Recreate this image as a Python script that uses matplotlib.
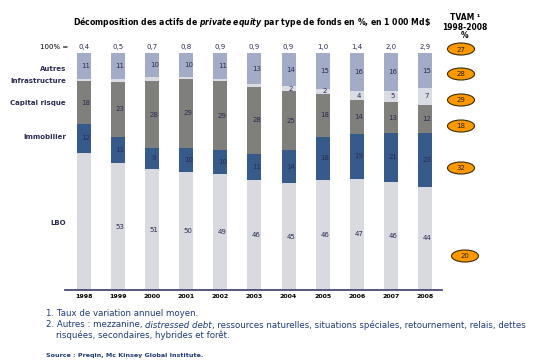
import matplotlib
matplotlib.use('Agg')
import matplotlib.pyplot as plt
from matplotlib.patches import Ellipse
import numpy as np

# data
years = ['1998', '1999', '2000', '2001', '2002', '2003', '2004', '2005', '2006', '2007', '2008']
totals = ['0,4', '0,5', '0,7', '0,8', '0,9', '0,9', '0,9', '1,0', '1,4', '2,0', '2,9']
lbo = [58, 53, 51, 50, 49, 46, 45, 46, 47, 46, 44]
immobilier = [12, 11, 9, 10, 10, 11, 14, 18, 19, 21, 23]
capital_risque = [18, 23, 28, 29, 29, 28, 25, 18, 14, 13, 12]
infrastructure = [1, 1, 2, 1, 1, 1, 2, 2, 4, 5, 7]
autres = [11, 11, 10, 10, 11, 13, 14, 15, 16, 16, 15]
show_infra = [False] * 6 + [True] * 5
show_lbo = [False] + [True] * 10
tvam_values = ['27', '28', '29', '18', '32', '20']

W, H = 548, 361
fig = plt.figure(figsize=(W / 100, H / 100), dpi=100)
plt.rcParams['mathtext.fontset'] = 'custom'
plt.rcParams['mathtext.bf'] = 'DejaVu Sans:bold:italic'

def fx(x):
    return x / W

def fy(y):
    return 1 - y / H

# axes box in pixels: left 65, right 442, top 53, bottom 290
ax = fig.add_axes([fx(65), fy(290), (442 - 65) / W, (290 - 53) / H])

txt_col = '#2B2B55'
navy = '#1F3A78'
colors = ['#D8DADF', '#365A8A', '#7F807C', '#D9DCE2', '#A3ACC7']
series = [lbo, immobilier, capital_risque, infrastructure, autres]
shows = [show_lbo, [True] * 11, [True] * 11, show_infra, [True] * 11]

x = np.arange(len(years))
sums = np.sum(np.array(series, dtype=float), axis=0)
bottom = np.zeros(len(years))
for vals, col, show in zip(series, colors, shows):
    h = np.array(vals) / sums * 100
    ax.bar(x, h, bottom=bottom, width=0.41, color=col, linewidth=0)
    for i in range(len(years)):
        if show[i]:
            ax.text(x[i] + 0.06, bottom[i] + h[i] / 2, str(vals[i]), ha='center', va='center',
                    fontsize=5, color=txt_col)
    bottom += h

for i in range(len(years)):
    ax.text(x[i], 102.5, totals[i], ha='center', va='center', fontsize=5, color=txt_col)

ax.set_xlim(-0.557, 10.5)
ax.set_ylim(0, 100)
ax.set_yticks([])
ax.set_xticks(x)
ax.set_xticklabels(years, fontsize=4.5, fontweight='bold')
ax.tick_params(axis='x', length=0, pad=3)
for s in ['top', 'left', 'right']:
    ax.spines[s].set_visible(False)
ax.spines['bottom'].set_color('#3A3A6A')
ax.spines['bottom'].set_linewidth(1.2)

# left labels
fig.text(fx(68), fy(47), '100% =', ha='right', va='center', fontsize=5, color='black')
for lab, yy in [('Autres', 69), ('Infrastructure', 81), ('Capital risque', 103),
                ('Immobilier', 137), ('LBO', 223)]:
    fig.text(fx(66), fy(yy), lab, ha='right', va='center', fontsize=5, fontweight='bold', color=txt_col)

# title
fig.text(fx(252), fy(22), r'Décomposition des actifs de $\mathbf{private\ equity}$ par type de fonds en %, en 1 000 Md\$',
         ha='center', va='center', fontsize=5.6, fontweight='bold', color='black')
fig.text(fx(465), fy(17), 'TVAM ¹', ha='center', va='center', fontsize=5.5, fontweight='bold')
fig.text(fx(465), fy(27), '1998-2008', ha='center', va='center', fontsize=5.5, fontweight='bold')
fig.text(fx(465), fy(36), '%', ha='center', va='center', fontsize=5.5, fontweight='bold')

# TVAM ellipses
for val, (ex, ey) in zip(tvam_values, [(461, 49), (461, 74), (461, 100), (461, 126), (461, 168), (465, 256)]):
    e = Ellipse((fx(ex), fy(ey)), 27 / W, 12 / H, transform=fig.transFigure,
                facecolor='#FF9900', edgecolor='#3A2A00', linewidth=0.8)
    fig.add_artist(e)
    fig.text(fx(ex), fy(ey + 0.5), val, ha='center', va='center', fontsize=5, color='#2A2000')

# footnotes
fs = 6.2
fig.text(fx(46), fy(314), '1. Taux de variation annuel moyen.', ha='left', va='center', fontsize=fs, color=navy)
renderer = fig.canvas.get_renderer()
xpos = 46
for part, style in [('2. Autres : mezzanine, ', 'normal'), ('distressed debt', 'italic'),
                    (', ressources naturelles, situations spéciales, retournement, relais, dettes', 'normal')]:
    t = fig.text(fx(xpos), fy(325), part, ha='left', va='center', fontsize=fs, style=style, color=navy)
    xpos += t.get_window_extent(renderer).width
fig.text(fx(56), fy(335.5), 'risquées, secondaires, hybrides et forêt.', ha='left', va='center', fontsize=fs, color=navy)
fig.text(fx(46), fy(355), 'Source : Preqin, Mc Kinsey Global Institute.', ha='left', va='center',
         fontsize=4.6, fontweight='bold', color=navy)

fig.savefig('out.png', dpi=100)
